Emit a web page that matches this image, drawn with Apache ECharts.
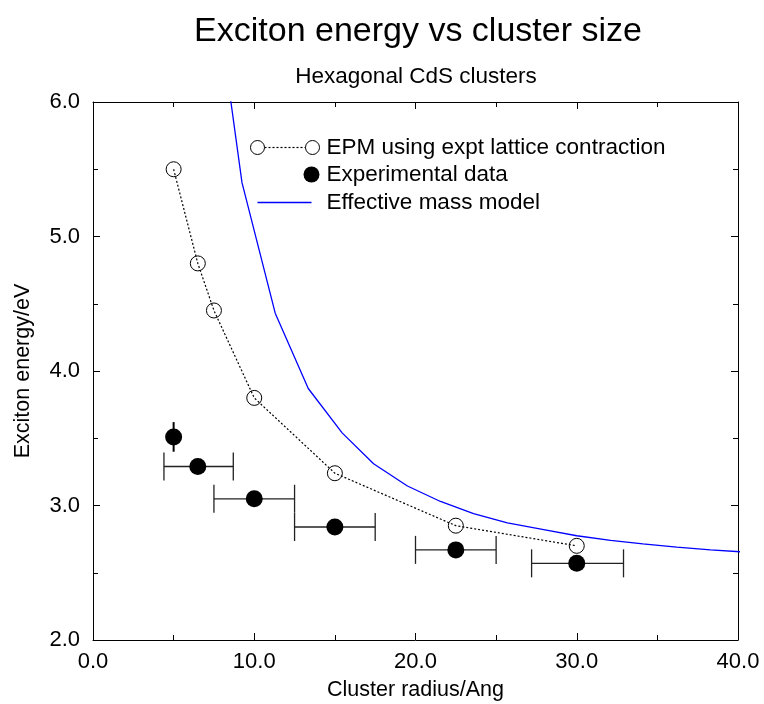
<!DOCTYPE html>
<html>
<head>
<meta charset="utf-8">
<script src="https://cdn.jsdelivr.net/npm/echarts@6/dist/echarts.min.js"></script>
<style>
	html, body { margin: 0; padding: 0; background: #fff; }
	#chart { width: 764px; height: 704px; }
</style>
</head>
<body>
<div id="chart"></div>
<script>
	// EPM calculation (open circles, dotted line)
	var epmX = [5, 6.5, 7.5, 10, 15, 22.5, 30];
	var epmY = [5.5, 4.8, 4.45, 3.8, 3.24, 2.85, 2.7];

	// experimental data with error ranges
	var expX = [5, 6.5, 10, 15, 22.5, 30];
	var expY = [3.51, 3.29, 3.05, 2.84, 2.67, 2.57];
	var expXLow = [5, 4.4, 7.5, 12.5, 20, 27.2];
	var expXHigh = [5, 8.7, 12.5, 17.5, 25, 32.9];
	var expYLow = [3.4, 3.29, 3.05, 2.84, 2.67, 2.57];
	var expYHigh = [3.62, 3.29, 3.05, 2.84, 2.67, 2.57];

	// effective mass model curve
	var emX = [7.18, 9.24, 11.3, 13.35, 15.45, 17.4, 19.5, 21.55, 23.6, 25.7, 27.95, 30.0, 32.1, 34.1, 36.2, 38.3, 40.3];
	var emY = [7.2, 5.40, 4.43, 3.87, 3.54, 3.31, 3.145, 3.03, 2.94, 2.87, 2.82, 2.775, 2.74, 2.715, 2.69, 2.67, 2.655];

	var xTicks = ['0.0', '10.0', '20.0', '30.0', '40.0'];
	var yTicks = ['2.0', '3.0', '4.0', '5.0', '6.0'];

	var font = 'Liberation Sans, Arial, Helvetica, sans-serif';

	function pairs(xs, ys) {
		var out = [];
		for (var i = 0; i < xs.length; i++) out.push([xs[i], ys[i]]);
		return out;
	}

	var errData = [];
	for (var i = 0; i < expX.length; i++) {
		errData.push([expX[i], expY[i], expXLow[i], expXHigh[i], expYLow[i], expYHigh[i]]);
	}

	function frameAxis(pos, min, max, interval, show) {
		return {
			type: 'value',
			position: pos,
			min: min,
			max: max,
			interval: interval,
			axisLine: { show: true, onZero: false, lineStyle: { color: '#000', width: 1 } },
			axisTick: { show: true, inside: true, length: 7, lineStyle: { color: '#000' } },
			minorTick: { show: true, splitNumber: 2, length: 5, lineStyle: { color: '#000' } },
			splitLine: { show: false },
			axisLabel: { show: show }
		};
	}

	var xBottom = frameAxis('bottom', 0, 40, 10, true);
	xBottom.axisLabel = {
		show: true, margin: 11, color: '#000', fontSize: 22, fontFamily: font,
		formatter: function(v) { return xTicks[Math.round(v / 10)]; }
	};
	xBottom.name = 'Cluster radius/Ang';
	xBottom.nameLocation = 'middle';
	xBottom.nameGap = 39;
	xBottom.nameTextStyle = { color: '#000', fontSize: 21.5, fontFamily: font };

	var yLeft = frameAxis('left', 2, 6, 1, true);
	yLeft.axisLabel = {
		show: true, margin: 13, color: '#000', fontSize: 22, fontFamily: font,
		formatter: function(v) { return yTicks[Math.round(v - 2)]; }
	};
	yLeft.name = 'Exciton energy/eV';
	yLeft.nameLocation = 'middle';
	yLeft.nameGap = 59;
	yLeft.nameTextStyle = { color: '#000', fontSize: 21.5, fontFamily: font };

	var chart = echarts.init(document.getElementById('chart'));
	chart.setOption({
		animation: false,
		backgroundColor: '#fff',
		title: [{
			text: 'Exciton energy vs cluster size',
			left: 413,
			textAlign: 'center',
			top: 10,
			textStyle: { color: '#000', fontSize: 34, fontWeight: 'normal', fontFamily: font }
		}, {
			text: 'Hexagonal CdS clusters',
			left: 411,
			textAlign: 'center',
			top: 60,
			textStyle: { color: '#000', fontSize: 22.5, fontWeight: 'normal', fontFamily: font }
		}],
		grid: { left: 93, right: 26, top: 102, bottom: 64, outerBoundsMode: 'none' },
		xAxis: [xBottom, frameAxis('top', 0, 40, 10, false)],
		yAxis: [yLeft, frameAxis('right', 2, 6, 1, false)],
		series: [{
			name: 'Effective mass model',
			type: 'line',
			data: pairs(emX, emY),
			showSymbol: false,
			clip: true,
			lineStyle: { color: '#0000ff', width: 1.3 },
			z: 2
		}, {
			name: 'error bars',
			type: 'custom',
			data: errData,
			encode: { x: [0, 2, 3], y: [1, 4, 5] },
			renderItem: function(params, api) {
				var lo = api.coord([api.value(2), api.value(1)]);
				var hi = api.coord([api.value(3), api.value(1)]);
				var bot = api.coord([api.value(0), api.value(4)]);
				var top = api.coord([api.value(0), api.value(5)]);
				var st = { stroke: '#222', lineWidth: 1.3 };
				var kids = [];
				if (api.value(2) !== api.value(3)) {
					kids.push({ type: 'line', shape: { x1: lo[0], y1: lo[1], x2: hi[0], y2: hi[1] }, style: st });
					kids.push({ type: 'line', shape: { x1: lo[0], y1: lo[1] - 14, x2: lo[0], y2: lo[1] + 14 }, style: st });
					kids.push({ type: 'line', shape: { x1: hi[0], y1: hi[1] - 14, x2: hi[0], y2: hi[1] + 14 }, style: st });
				}
				if (api.value(4) !== api.value(5)) {
					kids.push({ type: 'line', shape: { x1: bot[0], y1: bot[1], x2: top[0], y2: top[1] }, style: { stroke: '#000', lineWidth: 2 } });
				}
				return { type: 'group', children: kids };
			},
			z: 3
		}, {
			name: 'Experimental data',
			type: 'scatter',
			data: pairs(expX, expY),
			symbol: 'circle',
			symbolSize: 17,
			itemStyle: { color: '#000', opacity: 1 },
			z: 4
		}, {
			name: 'EPM using expt lattice contraction',
			type: 'line',
			data: pairs(epmX, epmY),
			symbol: 'circle',
			symbolSize: 15,
			showSymbol: true,
			itemStyle: { color: 'rgba(0,0,0,0)', borderColor: '#000', borderWidth: 1 },
			lineStyle: { color: '#000', width: 1.2, type: [2, 2] },
			z: 5
		}],
		// legend drawn by hand to get the circle-dots-circle key
		graphic: [{
			type: 'group',
			left: 250,
			top: 136,
			children: [
				{ type: 'circle', shape: { cx: 8, cy: 8, r: 7 }, style: { fill: 'rgba(0,0,0,0)', stroke: '#000', lineWidth: 1 } },
				{ type: 'line', shape: { x1: 15, y1: 8, x2: 56, y2: 8 }, style: { stroke: '#000', lineWidth: 1.2, lineDash: [2, 2] } },
				{ type: 'circle', shape: { cx: 63, cy: 8, r: 7 }, style: { fill: 'rgba(0,0,0,0)', stroke: '#000', lineWidth: 1 } },
				{ type: 'text', x: 77, y: 8, style: { text: 'EPM using expt lattice contraction', fill: '#000', fontSize: 22.5, fontFamily: font, verticalAlign: 'middle' } },
				{ type: 'circle', shape: { cx: 62, cy: 35, r: 8 }, style: { fill: '#000' } },
				{ type: 'text', x: 77, y: 35, style: { text: 'Experimental data', fill: '#000', fontSize: 22.5, fontFamily: font, verticalAlign: 'middle' } },
				{ type: 'line', shape: { x1: 8, y1: 63, x2: 62, y2: 63 }, style: { stroke: '#0000ff', lineWidth: 1.3 } },
				{ type: 'text', x: 77, y: 63, style: { text: 'Effective mass model', fill: '#000', fontSize: 22.5, fontFamily: font, verticalAlign: 'middle' } }
			]
		}]
	});
</script>
</body>
</html>
